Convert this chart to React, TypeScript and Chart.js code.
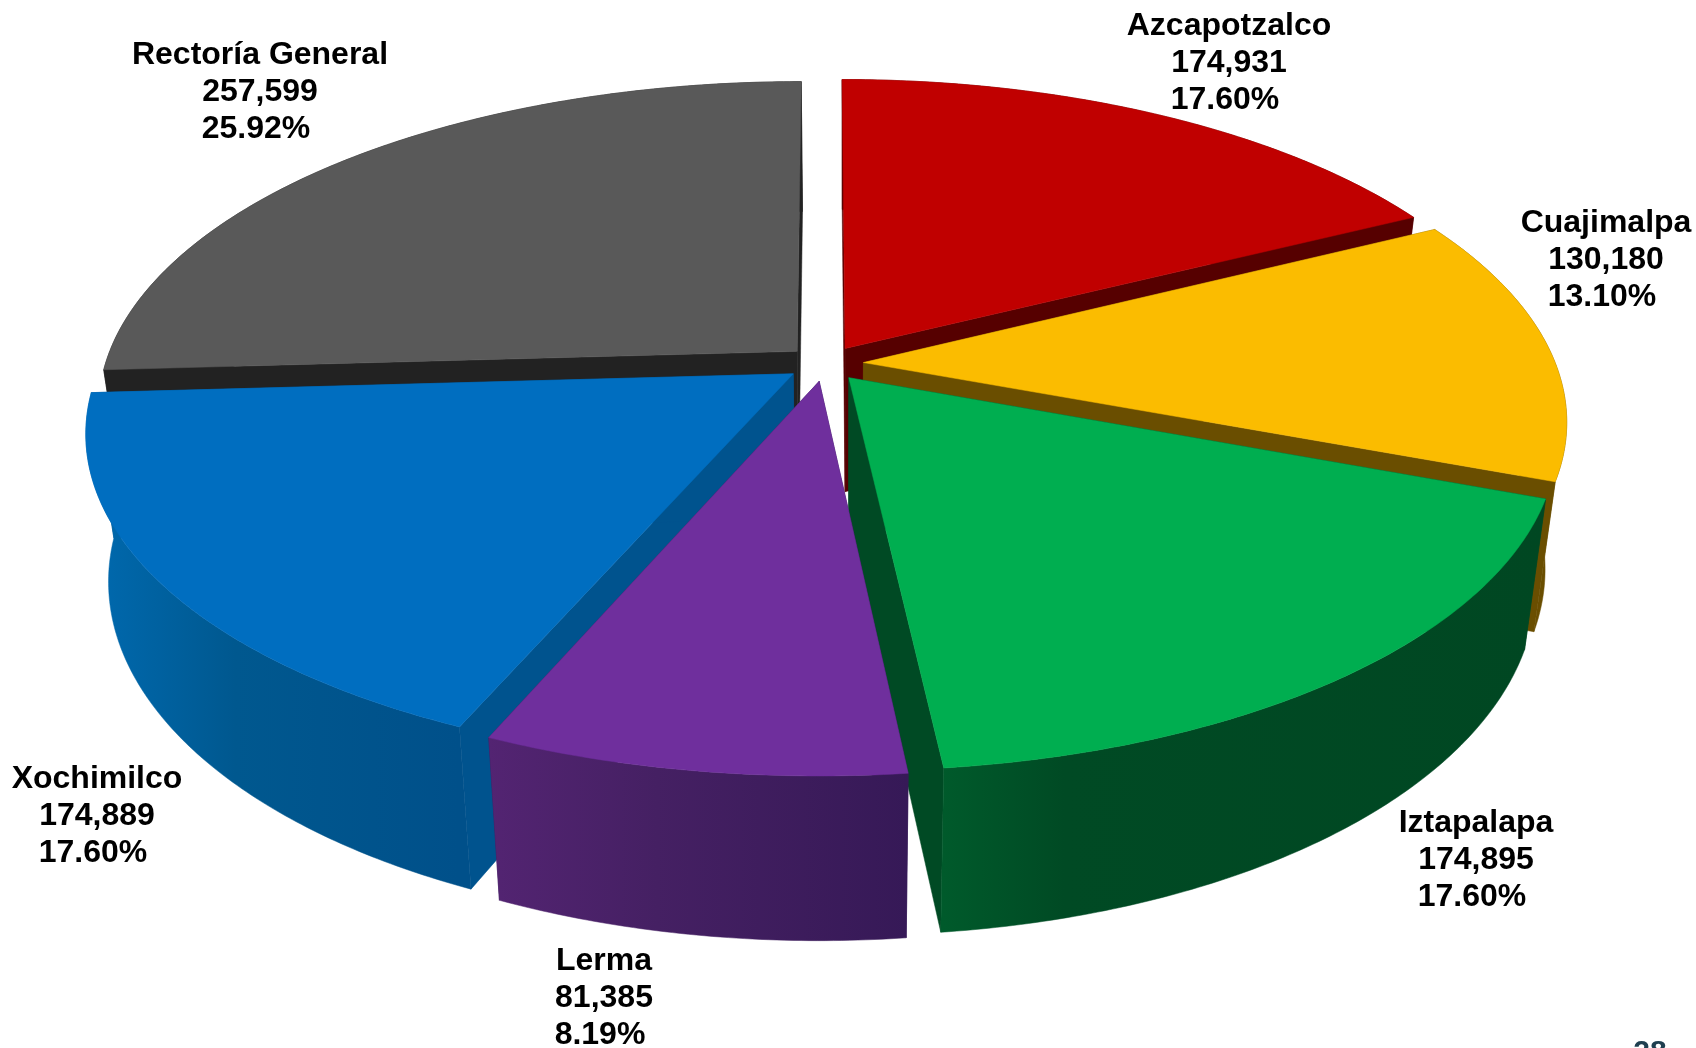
import React, { useEffect, useRef } from "react";
import { Chart, registerables } from "chart.js";

Chart.register(...registerables);

const categories = ["Azcapotzalco", "Cuajimalpa", "Iztapalapa", "Lerma", "Xochimilco", "Rectoría General"];
const values = [174931, 130180, 174895, 81385, 174889, 257599];
const percents = ["17.60%", "13.10%", "17.60%", "8.19%", "17.60%", "25.92%"];
const topColors = ["#C00000", "#FBBC00", "#00AE50", "#6F2F9D", "#006EC0", "#595959"];
const wallColors = ["#560000", "#6A4E00", "#004A24", "#371A58", "#00538E", "#222222"];
const outerLeft = ["#560000", "#6A4E00", "#005A2B", "#532472", "#006AB0", "#222222"];
const outerMid = ["#560000", "#6A4E00", "#004A24", "#452063", "#00588F", "#222222"];
const outerRight = ["#560000", "#6A4E00", "#004722", "#361957", "#00508A", "#222222"];
const paintOrder = [5, 0, 1, 4, 2, 3];
const labelX = [1229, 1606, 1476, 604, 97, 260];
const labelY = [26, 223, 823, 961, 779, 55];
const pageNumber = "28";

const VIEW = { cx: 825, cy: 363.5, a: 692, b: 320, k: 0.172, vx: 844, shrink: 0.97 };

function project(u: number, v: number) {
  const w = 1 - VIEW.k * v;
  return { x: VIEW.cx + (VIEW.a * u) / w, y: VIEW.cy + (VIEW.b * v) / w };
}
function drop(p: { x: number; y: number }) {
  return {
    x: VIEW.vx + (p.x - VIEW.vx) * VIEW.shrink,
    y: p.y + 150 + (p.y - 482) * 0.05,
  };
}

const pie3d = {
  id: "pie3d",
  beforeDatasetsDraw(chart: any) {
    const ctx = chart.ctx as CanvasRenderingContext2D;
    const arcs = chart.getDatasetMeta(0).data;
    const poly = (pts: { x: number; y: number }[], fill: any) => {
      ctx.beginPath();
      pts.forEach((p, i) => (i ? ctx.lineTo(p.x, p.y) : ctx.moveTo(p.x, p.y)));
      ctx.closePath();
      ctx.fillStyle = fill;
      ctx.fill();
      ctx.strokeStyle = fill;
      ctx.lineWidth = 0.5;
      ctx.stroke();
    };
    for (const i of paintOrder) {
      const arc = arcs[i];
      const R = arc.outerRadius;
      const mid = (arc.startAngle + arc.endAngle) / 2;
      const d = arc.options.offset / 4 / R;
      const ou = Math.cos(mid) * d;
      const ov = Math.sin(mid) * d;
      const apex = project(ou, ov);
      const rim: { x: number; y: number }[] = [];
      const n = Math.max(2, Math.ceil((arc.endAngle - arc.startAngle) / 0.01));
      for (let j = 0; j <= n; j++) {
        const t = arc.startAngle + ((arc.endAngle - arc.startAngle) * j) / n;
        rim.push(project(Math.cos(t) + ou, Math.sin(t) + ov));
      }
      const rimBottom = rim.map(drop);
      const first = rim[0];
      const last = rim[rim.length - 1];
      const apexB = drop(apex);
      // radial walls
      poly([apex, first, drop(first), apexB], wallColors[i]);
      poly([apex, last, drop(last), apexB], wallColors[i]);
      // outer wall with horizontal shading
      const xs = rim.map((p) => p.x);
      const g = ctx.createLinearGradient(Math.min(...xs), 0, Math.max(...xs), 0);
      g.addColorStop(0, outerLeft[i]);
      g.addColorStop(i === 2 ? 0.2 : 0.4, outerMid[i]);
      g.addColorStop(1, outerRight[i]);
      poly([...rim, ...rimBottom.slice().reverse()], g);
      // top face
      poly([apex, ...rim], topColors[i]);
    }
    return false;
  },
  afterDraw(chart: any) {
    const ctx = chart.ctx as CanvasRenderingContext2D;
    ctx.save();
    ctx.fillStyle = "#000000";
    ctx.font = 'bold 32px "Liberation Sans", Arial, sans-serif';
    ctx.textAlign = "center";
    ctx.textBaseline = "middle";
    categories.forEach((name, i) => {
      ctx.fillText(name, labelX[i], labelY[i]);
      ctx.fillText(values[i].toLocaleString("en-US"), labelX[i], labelY[i] + 37);
      ctx.fillText(percents[i], labelX[i] - 4, labelY[i] + 74);
    });
    ctx.fillStyle = "#1F3F50";
    ctx.font = 'bold 30px "Liberation Sans", Arial, sans-serif';
    ctx.textBaseline = "alphabetic";
    ctx.fillText(pageNumber, 1650, 1061);
    ctx.restore();
  },
};

export default function App() {
  const ref = useRef<HTMLCanvasElement>(null);
  useEffect(() => {
    document.body.style.margin = "0";
    document.body.style.overflow = "hidden";
    document.body.style.background = "#ffffff";
    const chart = new Chart(ref.current as HTMLCanvasElement, {
      type: "pie",
      data: {
        labels: categories,
        datasets: [
          {
            data: values,
            backgroundColor: topColors,
            borderWidth: 0,
            offset: 105,
          },
        ],
      },
      options: {
        responsive: false,
        animation: false,
        rotation: 0,
        layout: { autoPadding: false },
        plugins: { legend: { display: false }, tooltip: { enabled: false } },
      } as any,
      plugins: [pie3d as any],
    });
    return () => chart.destroy();
  }, []);
  return (
    <div style={{ width: 1696, height: 1048 }}>
      <canvas ref={ref} width={1696} height={1048} style={{ display: "block" }} />
    </div>
  );
}
